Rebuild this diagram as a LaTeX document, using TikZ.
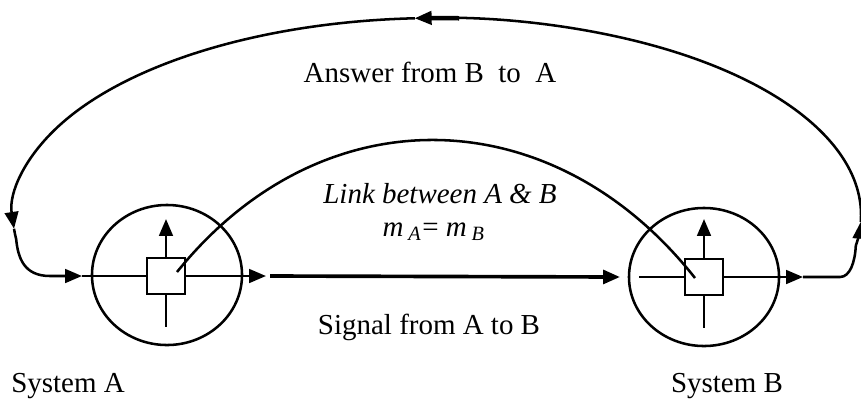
\documentclass[tikz,border=0pt]{standalone}
\usepackage{fontspec}
\setmainfont{Liberation Serif}
\usetikzlibrary{arrows.meta,shapes.geometric}

\begin{document}
\begin{tikzpicture}[x=0.0125cm,y=0.0125cm,line width=0.9pt,
  >={Triangle[length=0.21cm,width=0.17cm]},
  ring/.style={draw,ellipse,inner sep=0pt,minimum width=1.875cm,minimum height=1.75cm},
  port/.style={draw,inner sep=0pt,minimum width=0.47cm,minimum height=0.45cm},
  sig/.style={line width=1.3pt},
  lbl/.style={font=\fontsize{10.3}{12}\selectfont,inner sep=0pt}]
\useasboundingbox (0,0) rectangle (861,408);
% ================ systems A and B ================
\node[ring] (ringA) at (167,133) {};
\node[ring,minimum height=1.725cm] (ringB) at (704,131) {};
\node[port] (boxA) at (166,132) {};
\node[port] (boxB) at (704,131) {};
% vertical strokes
\coordinate (upA) at (166,189);
\coordinate (downA) at (166,81);
\coordinate (upB) at (704,189);
\coordinate (downB) at (704,80);
\draw[->] (boxA.north) -- (upA);
\draw (boxA.south) -- (downA);
\draw[->] (boxB.north) -- (upB);
\draw (boxB.south) -- (downB);
% signal A -> B
\coordinate (outA) at (266,132);
\coordinate (sigA) at (270,132);
\coordinate (sigB) at (620,131);
\coordinate (inB) at (639,131);
\coordinate (outB) at (803,131);
\draw[->] (boxA.east) -- (outA);
\draw[->,sig] (sigA) -- (sigB);
\draw (inB) -- (boxB.west);
\draw[->] (boxB.east) -- (outB);
% link arc
\coordinate (linkA) at (177,136);
\coordinate (linkB) at (695,130);
\draw (linkA) .. controls (322,316) and (553,310) .. (linkB);
% ================ answer loop B -> A ================
\coordinate (loopC) at (437,193);
\coordinate (tailB) at (840,131);
\coordinate (headA) at (82,132);
\draw[->] (outB) -- (tailB) .. controls (850,131) and (855,146) .. ([shift={(loopC)}]-9:424 and 197)
  arc[start angle=-9,end angle=-2,x radius=424,y radius=197];
\draw[->] ([shift={(loopC)}]-2:424 and 197) arc[start angle=-2,end angle=93,x radius=424,y radius=197];
\draw[line width=1.6pt] ([shift={(loopC)}]87:424 and 197) arc[start angle=87,end angle=92,x radius=424,y radius=197];
\draw[->] ([shift={(loopC)}]93:424 and 197) arc[start angle=93,end angle=184,x radius=424,y radius=197];
\draw[->] ([shift={(loopC)}]184:424 and 197) arc[start angle=184,end angle=187,x radius=424,y radius=197]
  .. controls (18,150) and (24,132) .. (50,132) -- (headA);
\draw (headA) -- (boxA.west);
% labels
\node[lbl] (lblAnswer) at (430,336) {Answer from B\ \ to\ \ A};
\node[lbl] (lblLink) at (440,214) {\itshape Link between A \& B};
\node[lbl] (lblMass) at (434,176) {\textit{m}\,\textsubscript{\textit{A}}= \textit{m}\,\textsubscript{\textit{B}}};
\node[lbl] (lblSignal) at (429,81) {Signal from A to B};
\node[lbl] (lblSysA) at (68,22) {System A};
\node[lbl] (lblSysB) at (727,22) {System B};
\end{tikzpicture}
\end{document}
